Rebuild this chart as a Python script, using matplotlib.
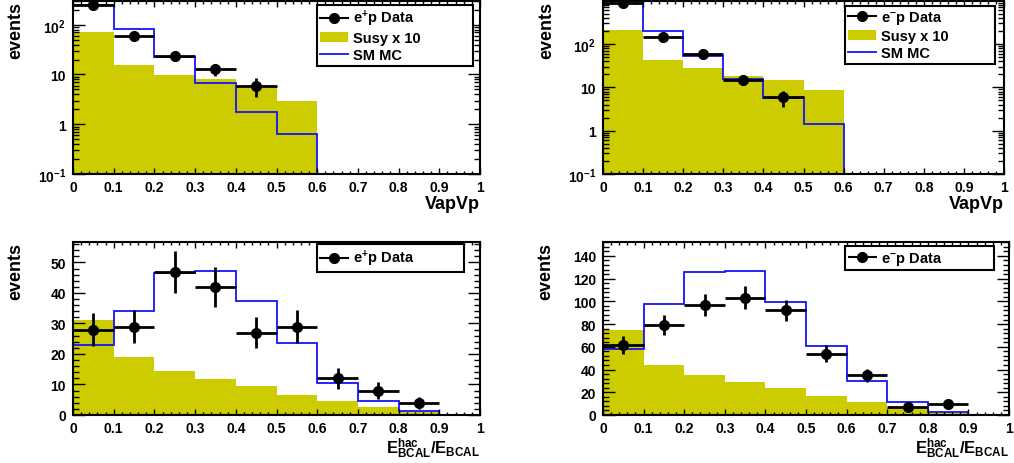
import numpy as np
import matplotlib
matplotlib.use('Agg')
import matplotlib.pyplot as plt
from matplotlib.lines import Line2D
from matplotlib.patches import Patch
from matplotlib.ticker import MultipleLocator, LogLocator, FuncFormatter, NullFormatter

# bin edges shared by all four histograms
bin_edges = [0.0, 0.1, 0.2, 0.3, 0.4, 0.5, 0.6, 0.7, 0.8, 0.9, 1.0]

# top left: VapVp, e+p
tl_data = [245, 60, 24, 13, 6, 0, 0, 0, 0, 0]
tl_err = [15.7, 7.7, 4.9, 3.6, 2.4, 0, 0, 0, 0, 0]
tl_sm = [250, 82, 22, 6.8, 1.8, 0.64, 0, 0, 0, 0]
tl_susy = [70, 15.5, 9.6, 8.2, 5.7, 2.9, 0, 0, 0, 0]

# top right: VapVp, e-p
tr_data = [870, 145, 58, 15, 6, 0, 0, 0, 0, 0]
tr_err = [29.5, 12.0, 7.6, 3.9, 2.4, 0, 0, 0, 0, 0]
tr_sm = [970, 200, 54, 15.7, 5.7, 1.4, 0, 0, 0, 0]
tr_susy = [205, 42, 28, 18.7, 15, 8.5, 0, 0, 0, 0]

# bottom left: E_hac/E, e+p
bl_data = [28, 29, 47, 42, 27, 29, 12, 8, 4, 0]
bl_err = [5.3, 5.4, 6.9, 6.5, 5.2, 5.4, 3.5, 2.8, 2.0, 0]
bl_sm = [23, 34.2, 46.7, 47.2, 37.3, 23.6, 10.5, 4.7, 1.3, 0]
bl_susy = [31.1, 19.1, 14.3, 11.8, 9.4, 6.7, 4.5, 2.6, 1.0, 0]

# bottom right: E_hac/E, e-p
br_data = [62, 79, 97, 103, 92, 54, 35, 7, 10, 0]
br_err = [7.9, 8.9, 9.8, 10.1, 9.6, 7.3, 5.9, 2.6, 3.2, 0]
br_sm = [58, 97.4, 125.9, 127, 99.7, 60.6, 29.7, 11.2, 2.9, 0]
br_susy = [74.4, 44.1, 35.6, 29.4, 23.8, 16.8, 11.8, 6.5, 2.6, 0]

yellow = '#cccc00'
blue = '#1414ff'

plt.rcParams['font.family'] = ['Liberation Sans', 'DejaVu Sans']
plt.rcParams['font.weight'] = 'bold'
plt.rcParams['mathtext.fontset'] = 'custom'
plt.rcParams['mathtext.rm'] = 'Liberation Sans:bold'
plt.rcParams['mathtext.it'] = 'Liberation Sans:bold'
plt.rcParams['mathtext.bf'] = 'Liberation Sans:bold'
plt.rcParams['mathtext.default'] = 'rm'


def log_label(v, pos):
    if abs(v - 1) < 1e-9:
        return '1'
    if abs(v - 10) < 1e-9:
        return '10'
    return r'$10^{%d}$' % int(round(np.log10(v)))


def draw_panel(ax, data, err, sm, susy, logy, ylim, xlabel, labels, legbox):
    edges = np.array(bin_edges)
    centers = 0.5 * (edges[:-1] + edges[1:])
    data = np.array(data, dtype=float)
    err = np.array(err, dtype=float)

    if logy:
        ax.set_yscale('log')
    ax.stairs(susy, edges, fill=True, color=yellow, baseline=ylim[0], lw=0)
    ax.stairs(sm, edges, color=blue, lw=1.3, baseline=None)
    ok = data > 0
    ax.errorbar(centers[ok], data[ok], yerr=err[ok], xerr=0.05, fmt='o',
                color='black', ms=7, elinewidth=2, capsize=0)

    ax.set_xlim(0, 1)
    ax.set_ylim(*ylim)

    ax.xaxis.set_major_locator(MultipleLocator(0.1))
    ax.xaxis.set_minor_locator(MultipleLocator(0.02))
    ax.xaxis.set_major_formatter(FuncFormatter(lambda v, p: '%g' % round(v, 2)))
    if logy:
        ax.yaxis.set_major_locator(LogLocator(base=10))
        ax.yaxis.set_minor_locator(LogLocator(base=10, subs=np.arange(2, 10)))
        ax.yaxis.set_major_formatter(FuncFormatter(log_label))
        ax.yaxis.set_minor_formatter(NullFormatter())
    elif ylim[1] > 100:
        ax.yaxis.set_major_locator(MultipleLocator(20))
        ax.yaxis.set_minor_locator(MultipleLocator(4))
    else:
        ax.yaxis.set_major_locator(MultipleLocator(10))
        ax.yaxis.set_minor_locator(MultipleLocator(2))

    ax.tick_params(which='both', direction='in', top=True, right=True,
                   labelsize=10, width=1)
    ax.tick_params(axis='x', which='major', length=4, pad=4)
    ax.tick_params(axis='x', which='minor', length=2)
    ax.tick_params(axis='y', which='major', length=8.5, pad=5)
    ax.tick_params(axis='y', which='minor', length=4.3)
    for s in ax.spines.values():
        s.set_linewidth(1.5)

    ax.set_xlabel(xlabel, loc='right', fontsize=13 if logy else 12,
                  fontweight='bold', labelpad=1)
    ax.set_ylabel('events', loc='top', fontsize=13, fontweight='bold')
    ax.yaxis.set_label_coords(-0.12, 1.0)

    handles = [Line2D([], [], color='black', marker='o', ms=7, lw=1.5)]
    if len(labels) > 1:
        handles.append(Patch(facecolor=yellow, edgecolor='none'))
        handles.append(Line2D([], [], color=blue, lw=1.3))
    leg = ax.legend(handles, labels, loc='center left', bbox_to_anchor=legbox,
                    mode='expand', fontsize=10.5, frameon=True, fancybox=False,
                    edgecolor='black', framealpha=1, borderpad=0.25,
                    labelspacing=0.2, handlelength=1.9, handletextpad=0.3,
                    borderaxespad=0)
    leg.get_frame().set_linewidth(1.5)


fig = plt.figure(figsize=(10.14, 4.64), dpi=100)
ax_tl = fig.add_axes([73 / 1014, 1 - 175 / 464, 407 / 1014, 173 / 464])
ax_tr = fig.add_axes([603 / 1014, 1 - 175 / 464, 401 / 1014, 173 / 464])
ax_bl = fig.add_axes([73 / 1014, 1 - 416 / 464, 407 / 1014, 172.7 / 464])
ax_br = fig.add_axes([603 / 1014, 1 - 416 / 464, 406 / 1014, 172.7 / 464])

xlab_bottom = r'$E^{hac}_{BCAL}/E_{BCAL}$'

draw_panel(ax_tl, tl_data, tl_err, tl_sm, tl_susy, True, (0.1, 300), 'VapVp',
           [r'$e^{+}p$ Data', 'Susy x 10', 'SM MC'], (0.599, 0.646, 0.383, 0.312))
draw_panel(ax_tr, tr_data, tr_err, tr_sm, tr_susy, True, (0.1, 980), 'VapVp',
           [r'$e^{-}p$ Data', 'Susy x 10', 'SM MC'], (0.603, 0.650, 0.374, 0.308))
draw_panel(ax_bl, bl_data, bl_err, bl_sm, bl_susy, False, (0, 56.6), xlab_bottom,
           [r'$e^{+}p$ Data'], (0.599, 0.855, 0.362, 0.106))
draw_panel(ax_br, br_data, br_err, br_sm, br_susy, False, (0, 152), xlab_bottom,
           [r'$e^{-}p$ Data'], (0.596, 0.855, 0.367, 0.106))

fig.savefig('out.png', dpi=100)
